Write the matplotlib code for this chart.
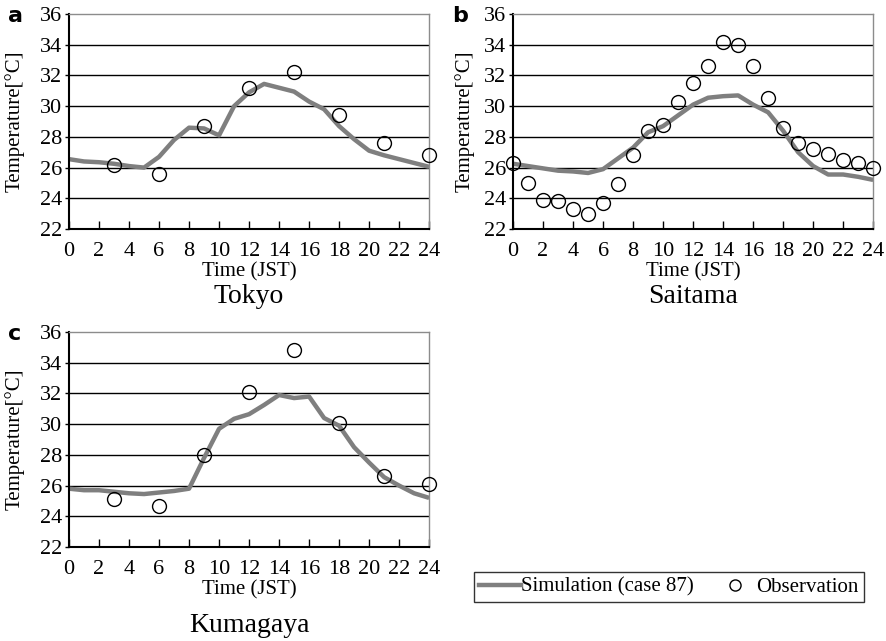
import matplotlib
matplotlib.use("Agg")
import matplotlib.pyplot as plt
from matplotlib.lines import Line2D

plt.rcParams['font.family'] = ['Liberation Serif', 'DejaVu Serif']

hours = list(range(25))
obs_hours_3h = [3, 6, 9, 12, 15, 18, 21, 24]

# Tokyo
tokyo_sim = [26.55, 26.4, 26.35, 26.25, 26.1, 26.0, 26.7, 27.8, 28.6, 28.55, 28.1, 30.0, 30.9,
             31.45, 31.2, 30.95, 30.3, 29.8, 28.7, 27.85, 27.1, 26.8, 26.55, 26.3, 26.05]
tokyo_obs = [26.15, 25.6, 28.7, 31.2, 32.2, 29.4, 27.6, 26.8]

# Saitama
saitama_sim = [26.25, 26.1, 25.95, 25.8, 25.75, 25.65, 25.9, 26.6, 27.3, 28.3, 28.7, 29.4, 30.1,
               30.55, 30.65, 30.7, 30.1, 29.6, 28.4, 27.0, 26.1, 25.55, 25.55, 25.4, 25.2]
saitama_obs = [26.3, 25.0, 23.9, 23.8, 23.3, 23.0, 23.7, 24.9, 26.8, 28.4, 28.8, 30.3, 31.5,
               32.6, 34.2, 34.0, 32.6, 30.5, 28.6, 27.6, 27.2, 26.9, 26.5, 26.3, 26.0]

# Kumagaya
kumagaya_sim = [25.8, 25.7, 25.7, 25.6, 25.5, 25.45, 25.55, 25.65, 25.8, 27.8, 29.7, 30.35, 30.65,
                31.25, 31.9, 31.7, 31.8, 30.4, 29.9, 28.5, 27.5, 26.55, 26.0, 25.5, 25.2]
kumagaya_obs = [25.1, 24.7, 28.0, 32.1, 34.8, 30.1, 26.6, 26.1]

x_ticks = list(range(0, 25, 2))
y_ticks = list(range(22, 37, 2))

LINE_COLOR = "#7f7f7f"


def draw_panel(ax, sim, obs_x, obs_y, ylabel_x):
    ax.set_xlim(0, 24)
    ax.set_ylim(22, 36)
    for y in y_ticks[1:-1]:
        ax.axhline(y, color="black", lw=1.0, zorder=1)
    ax.plot(hours, sim, color=LINE_COLOR, lw=3.2, solid_capstyle="butt", zorder=2)
    ax.plot(obs_x, obs_y, linestyle="none", marker="o", markersize=10, clip_on=False,
            markerfacecolor="none", markeredgecolor="black", markeredgewidth=1.0, zorder=3)
    ax.set_xticks(x_ticks)
    ax.set_yticks(y_ticks)
    ax.tick_params(axis="x", direction="in", length=6, width=1, labelsize=16, pad=9)
    ax.tick_params(axis="y", direction="out", length=3, width=1, labelsize=16, pad=2)
    for side in ("left", "bottom"):
        ax.spines[side].set_color("black")
        ax.spines[side].set_linewidth(1.5)
    for side in ("top", "right"):
        ax.spines[side].set_color("#8c8c8c")
        ax.spines[side].set_linewidth(1.0)
    ax.set_xlabel("Time (JST)", fontsize=15, labelpad=1)
    ax.set_ylabel("Temperature[°C]", fontsize=15)
    ax.yaxis.set_label_coords(ylabel_x, 0.5)


fig = plt.figure(figsize=(8.87, 6.41), dpi=100)

ax_a = fig.add_axes([0.0778, 0.6427, 0.406, 0.3354])
ax_b = fig.add_axes([0.5784, 0.6427, 0.406, 0.3354])
ax_c = fig.add_axes([0.0778, 0.1466, 0.406, 0.3354])

draw_panel(ax_a, tokyo_sim, obs_hours_3h, tokyo_obs, -0.122)
draw_panel(ax_b, saitama_sim, hours, saitama_obs, -0.108)
draw_panel(ax_c, kumagaya_sim, obs_hours_3h, kumagaya_obs, -0.122)

# panel letters
for letter, (px, py) in zip("abc", [(8, 16), (452, 16), (8, 334)]):
    fig.text(px / 887, 1 - py / 641, letter, fontsize=16, fontweight="bold",
             family="DejaVu Sans", ha="left", va="center")

# city names
fig.text(249 / 887, 1 - 297 / 641, "Tokyo", fontsize=20, ha="center", va="center")
fig.text(693 / 887, 1 - 297 / 641, "Saitama", fontsize=20, ha="center", va="center")
fig.text(249 / 887, 1 - 625 / 641, "Kumagaya", fontsize=20, ha="center", va="center")

handles = [
    Line2D([0], [0], color=LINE_COLOR, lw=3.2, label="Simulation (case 87)"),
    Line2D([0], [0], linestyle="none", marker="o", markersize=8, markerfacecolor="none",
           markeredgecolor="black", markeredgewidth=1.0, label="Observation"),
]
leg = fig.legend(handles=handles, loc="center", ncol=2,
                 bbox_to_anchor=(669 / 887, 1 - 587 / 641), fontsize=15,
                 frameon=True, fancybox=False, handlelength=2.0, handletextpad=0.0,
                 columnspacing=1.0, borderpad=0.25, borderaxespad=0)
leg.get_frame().set_edgecolor("black")
leg.get_frame().set_linewidth(1.0)

fig.savefig("out.png", dpi=100)
